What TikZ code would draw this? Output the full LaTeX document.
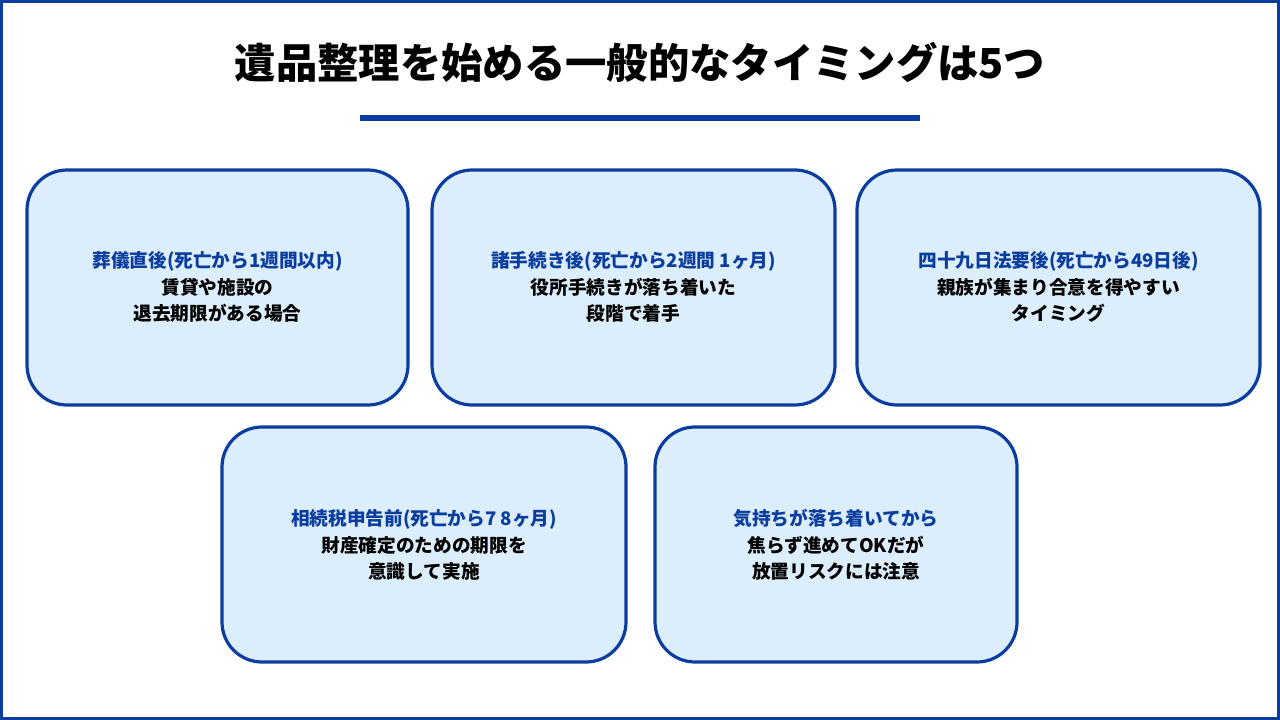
\documentclass[tikz,border=0pt]{standalone}
\usepackage{fontspec}
\newfontfamily\cjk{Noto Sans CJK JP}
\definecolor{navy}{HTML}{0A3D9E}
\definecolor{pale}{HTML}{DCEEFB}
\begin{document}
\begin{tikzpicture}[x=0.75pt,y=-0.75pt,
  card/.style={draw=navy,line width=2.4pt,fill=pale,rounded corners=30pt},
  txt/.style={align=center,font=\cjk\bfseries\fontsize{14}{20}\selectfont,text=black}]
\useasboundingbox (0,0) rectangle (1280,720);
\draw[navy,line width=2.4pt] (1.5,1.5) rectangle (1278.5,718.5);
\node[font=\cjk\bfseries\fontsize{31}{36}\selectfont] (title) at (640,62) {遺品整理を始める一般的なタイミングは5つ};
\draw[navy,line width=4pt] (360,118) coordinate (u1) -- (920,118) coordinate (u2);
\draw[card] (27,170) rectangle (408,405);
\draw[card] (432,170) rectangle (835,405);
\draw[card] (857,170) rectangle (1260,405);
\draw[card] (222,427) rectangle (626,662);
\draw[card] (655,427) rectangle (1017,662);
\newcommand{\hd}[1]{\textcolor{navy}{#1}}
\node[txt] (t1) at (217.5,287) {\hd{葬儀直後(死亡から1週間以内)}\\賃貸や施設の\\退去期限がある場合};
\node[txt] (t2) at (633.5,287) {\hd{諸手続き後(死亡から2週間~1ヶ月)}\\役所手続きが落ち着いた\\段階で着手};
\node[txt] (t3) at (1058.5,287) {\hd{四十九日法要後(死亡から49日後)}\\親族が集まり合意を得やすい\\タイミング};
\node[txt] (t4) at (424,545) {\hd{相続税申告前(死亡から7~8ヶ月)}\\財産確定のための期限を\\意識して実施};
\node[txt] (t5) at (836,545) {\hd{気持ちが落ち着いてから}\\焦らず進めてOKだが\\放置リスクには注意};
\end{tikzpicture}
\end{document}
